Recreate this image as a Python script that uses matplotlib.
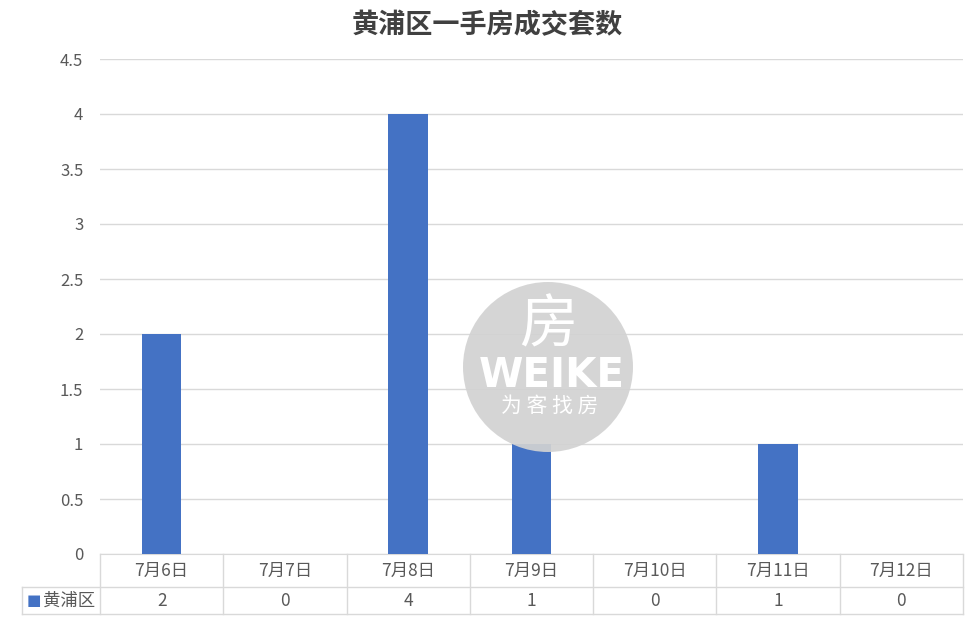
import matplotlib
matplotlib.use('Agg')
import matplotlib.pyplot as plt
from matplotlib.patches import Circle
from matplotlib.transforms import blended_transform_factory

plt.rcParams['font.family'] = ['Noto Sans CJK SC', 'DejaVu Sans']

categories = ['7月6日', '7月7日', '7月8日', '7月9日', '7月10日', '7月11日', '7月12日']
values = [2, 0, 4, 1, 0, 1, 0]
series_name = '黄浦区'
title = '黄浦区一手房成交套数'

bar_color = '#4472C4'
grid_color = '#D9D9D9'
text_color = '#595959'

fig = plt.figure(figsize=(9.74, 6.22), dpi=100)
ax = fig.add_axes([100 / 974, 68 / 622, 863 / 974, 495 / 622])

x = list(range(len(categories)))
ax.bar(x, values, width=0.32, color=bar_color, zorder=3)
ax.set_xlim(-0.5, len(categories) - 0.5)
ax.set_ylim(0, 4.5)
ax.set_yticks([i * 0.5 for i in range(10)])
ax.set_yticklabels(['0', '0.5', '1', '1.5', '2', '2.5', '3', '3.5', '4', '4.5'])
ax.yaxis.grid(True, color=grid_color, linewidth=1, zorder=0)
ax.set_axisbelow(True)
ax.tick_params(axis='y', length=0, labelsize=12, colors=text_color, pad=12)
ax.set_xticks([])
for s in ['top', 'right', 'left']:
    ax.spines[s].set_visible(False)
ax.spines['bottom'].set_color(grid_color)

fig.text(0.5, 1 - 25 / 622, title, ha='center', va='center', fontsize=19.5,
         fontweight='bold', color='#404040')

# data table under the plot (x in data units, y in pixels below axis via axes fraction)
tr = blended_transform_factory(ax.transData, ax.transAxes)
px = 1 / 495
row1 = -33 * px   # line between header row and value row
row2 = -60 * px   # bottom of table
left = -0.5 - 78 / (863 / len(categories))  # left edge of the series label cell
right = len(categories) - 0.5
line_kw = dict(color=grid_color, linewidth=1, transform=tr, clip_on=False)
ax.plot([left, right], [row1, row1], **line_kw)
ax.plot([left, right], [row2, row2], **line_kw)
ax.plot([left, left], [row1, row2], **line_kw)
for i in range(len(categories) + 1):
    ax.plot([i - 0.5, i - 0.5], [0, row2], **line_kw)
for i, (cat, v) in enumerate(zip(categories, values)):
    ax.text(i, row1 / 2, cat, transform=tr, ha='center', va='center',
            fontsize=12.5, color=text_color)
    ax.text(i, (row1 + row2) / 2, str(v), transform=tr, ha='center', va='center',
            fontsize=12.5, color=text_color)
ax.text(left + 0.04, (row1 + row2) / 2, '■', transform=tr, color=bar_color,
        fontsize=11, ha='left', va='center', family=['DejaVu Sans'])
ax.text(-0.5 - 0.04, (row1 + row2) / 2, series_name, transform=tr, color=text_color,
        fontsize=12.5, ha='right', va='center')

# watermark
fig.patches.append(Circle((548, 622 - 367), 85, transform=None, facecolor='#D2D2D2',
                          alpha=0.92, edgecolor='none', zorder=10, figure=fig))
fig.text(548 / 974, 1 - 326 / 622, '房', ha='center', va='center', fontsize=42,
         color='white', zorder=11, fontweight='light')
fig.text(552 / 974, 1 - 376 / 622, 'WEIKE', ha='center', va='center', fontsize=29,
         color='white', zorder=11, fontweight='bold', family=['DejaVu Sans'])
fig.text(550 / 974, 1 - 406 / 622, '为 客 找 房', ha='center', va='center', fontsize=15,
         color='white', zorder=11)

fig.savefig('out.png', dpi=100)
